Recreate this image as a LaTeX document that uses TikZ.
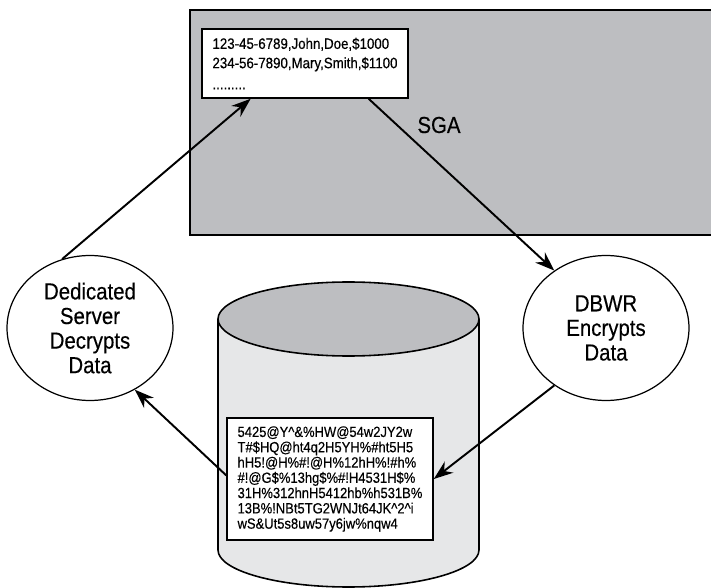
\documentclass[tikz,border=0pt]{standalone}
\usepackage{fontspec}
\setmainfont[FakeStretch=0.88,FakeBold=0.35]{Liberation Sans}
\usetikzlibrary{arrows.meta,shapes.geometric}
\definecolor{sgagray}{RGB}{189,190,193}
\definecolor{cylgray}{RGB}{230,231,232}

\begin{document}
\begin{tikzpicture}[
        x=0.02cm, y=-0.02cm,
        proc/.style={
            draw,
            ellipse,
            line width=0.7pt,
            fill=white,
            minimum width=3.32cm,
            minimum height=2.9cm,
            inner sep=0pt,
            align=center,
            font=\fontsize{13.2}{14}\selectfont
        },
        rowbox/.style={
            draw,
            fill=white,
            line width=0.9pt,
            minimum width=4.12cm,
            inner sep=0pt,
            align=left
        },
        arrow/.style={-{Stealth[length=11pt,width=8pt]}, line width=1.1pt}
    ]

    \useasboundingbox (0,0) rectangle (711,588);

    % SGA area
    \filldraw[fill=sgagray, line width=1pt] (190,10) rectangle (716,235);

    % datafile cylinder
    \filldraw[fill=cylgray, line width=0.9pt] (218,319) -- (218,550)
        arc[start angle=180, end angle=0, x radius=130.5, y radius=37] -- (479,319);
    \filldraw[fill=sgagray, line width=0.9pt] (348.5,319) ellipse[x radius=130.5, y radius=37];

    \node[font=\fontsize{13.2}{14}\selectfont] (sga) at (439,125) {SGA};

    \node[rowbox, minimum height=1.38cm, font=\fontsize{8.6}{11}\selectfont] (plain) at (305,63.5)
        {123-45-6789,John,Doe,\$1000\\234-56-7890,Mary,Smith,\$1100\\[1pt].........};

    \node[rowbox, minimum height=2.44cm, font=\fontsize{8.4}{8.7}\selectfont] (cipher) at (330,479)
        {5425@Y\textasciicircum\&\%HW@54w2JY2w\\
         T\#\$HQ@ht4q2H5YH\%\#ht5H5\\
         hH5!@H\%\#!@H\%12hH\%!\#h\%\\
         \#!@G\$\%13hg\$\%\#!H4531H\$\%\\
         31H\%312hnH5412hb\%h531B\%\\
         13B\%!NBt5TG2WNJt64JK\textasciicircum 2\textasciicircum i\\
         wS\&Ut5s8uw57y6jw\%nqw4};

    \node[proc] (dec) at (90,328) {Dedicated\\Server\\Decrypts\\Data};

    \node[proc] (enc) at (606,328) {DBWR\\Encrypts\\Data};

    \draw[arrow] (dec.112) -- (plain.213);
    \draw[arrow] (plain.331) -- (enc.132);
    \draw[arrow] (enc.228) -- (cipher.east);
    \draw[arrow] (cipher.178) -- (dec.306);

\end{tikzpicture}
\end{document}
